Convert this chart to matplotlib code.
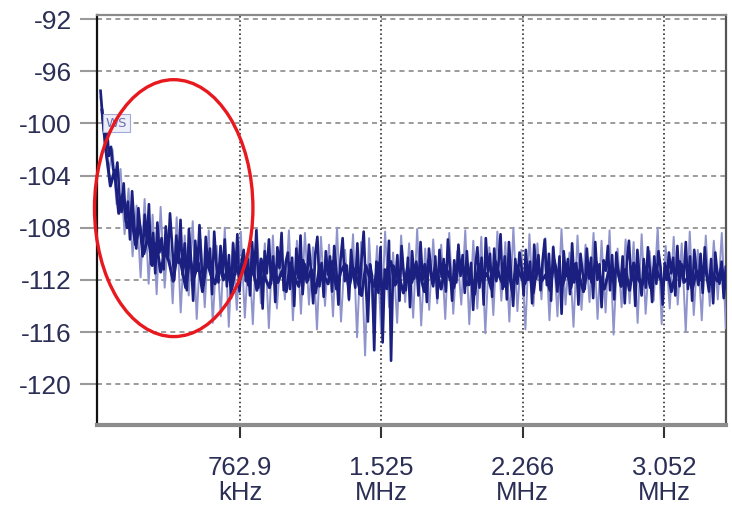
import numpy as np
import matplotlib
matplotlib.use("Agg")
import matplotlib.pyplot as plt
from matplotlib.patches import Ellipse

# ---- data ----
trace_dark_db = [
    -97.5, -99.5, -101.0, -100.2, -102.5, -101.8, -103.5, -104.2, -103.0, -105.5,
    -106.8, -104.6, -107.5, -106.0, -108.9, -105.2, -107.8, -109.6, -106.5, -108.3,
    -110.2, -107.0, -109.1, -106.2, -110.8, -108.4, -111.5, -107.6, -109.9, -108.8,
    -111.2, -107.9, -110.4, -106.9, -109.3, -112.0, -108.6, -110.7, -107.4, -111.6,
    -109.2, -112.8, -108.1, -110.5, -113.6, -109.0, -111.3, -107.8, -110.9, -112.4,
    -108.7, -111.0, -109.6, -113.1, -108.3, -110.8, -112.2, -109.4, -111.7, -108.9,
    -112.5, -110.1, -113.4, -109.2, -111.6, -108.5, -112.9, -110.6, -109.7, -112.1,
    -110.4, -113.2, -109.1, -111.8, -108.2, -112.6, -110.9, -114.2, -109.8, -111.5,
    -108.9, -112.3, -110.2, -113.7, -109.5, -111.1, -108.4, -112.8, -110.6, -109.9,
    -112.7, -110.3, -114.0, -109.6, -111.9, -108.6, -113.1, -110.8, -112.2, -109.3,
    -111.4, -113.8, -110.0, -108.7, -112.5, -110.7, -113.3, -109.8, -111.6, -110.2,
    -112.9, -109.4, -111.2, -113.9, -110.5, -108.8, -112.1, -110.9, -113.5, -109.7,
    -111.3, -112.6, -109.2, -113.1, -110.4, -108.3, -112.4, -115.2, -110.8, -111.7,
    -117.4, -110.6, -113.0, -109.5, -116.8, -111.2, -112.7, -109.0, -118.2, -110.9,
    -112.2, -110.1, -113.6, -109.4, -111.5, -112.8, -110.3, -114.1, -109.8, -111.9,
    -110.6, -113.2, -109.1, -112.0, -110.8, -113.7, -109.6, -111.3, -112.5, -110.2,
    -113.4, -109.7, -111.8, -110.4, -112.9, -108.9, -111.1, -113.6, -110.5, -112.2,
    -109.3, -111.7, -110.1, -113.0, -109.8, -112.4, -110.7, -114.3, -111.0, -109.5,
    -112.6, -110.3, -113.9, -108.8, -111.4, -110.0, -113.3, -109.6, -112.1, -110.8,
    -108.5, -112.7, -110.2, -113.5, -109.1, -111.6, -114.0, -110.4, -112.3, -109.9,
    -111.1, -113.2, -109.7, -112.0, -110.6, -113.8, -109.3, -111.9, -110.1, -112.8,
    -110.5, -108.9, -112.4, -110.0, -113.6, -109.5, -111.3, -112.9, -110.2, -114.6,
    -109.8, -111.7, -110.4, -113.1, -109.2, -112.2, -110.7, -113.9, -110.0, -111.5,
    -112.7, -109.6, -111.9, -110.3, -113.4, -109.1, -112.0, -110.8, -114.1, -110.5,
    -111.3, -109.4, -112.8, -110.1, -113.5, -109.9, -111.6, -112.4, -110.2, -113.8,
    -110.6, -109.0, -112.1, -110.9, -114.0, -109.7, -111.8, -113.2, -110.4, -112.6,
    -109.5, -111.4, -113.7, -110.2, -112.3, -109.8, -111.0, -113.9, -110.7, -112.0,
    -109.9, -111.5, -110.3, -113.2, -109.4, -112.5, -110.8, -111.9, -109.1, -112.7,
    -110.2, -113.6, -109.7, -111.3, -112.4, -110.0, -113.0, -109.5, -111.8, -112.9,
    -110.4, -113.8, -109.9, -111.6, -112.3, -110.6, -113.4, -111.0,
]

trace_core_db = [
    -99.0, -102.2, -104.8, -103.6, -106.9, -105.4, -108.0, -107.1, -109.3, -107.8,
    -110.0, -108.6, -110.9, -109.2, -111.4, -109.8, -110.6, -112.1, -109.9, -111.0,
    -112.6, -110.3, -111.8, -110.7, -112.9, -110.5, -111.6, -112.3, -110.8, -112.0,
    -111.2, -112.7, -110.9, -111.9,
    -110.6, -112.4, -111.0, -112.8, -110.4, -111.9, -112.6, -110.8, -112.2, -111.3,
    -112.9, -110.7, -111.8, -112.5, -110.5, -112.1, -111.2, -113.0, -110.9, -111.7,
    -112.3, -110.6, -112.7, -111.4, -110.8, -112.6, -111.1, -112.0, -113.2, -110.9,
    -111.9, -112.5, -110.7, -112.8, -111.3, -110.6, -112.4, -111.8, -113.0, -111.0,
    -112.2, -110.8, -111.6, -112.9, -110.5, -112.3, -111.4, -112.7, -110.9, -111.8,
    -112.6, -111.1, -110.7, -112.4, -111.9, -113.1, -110.8, -112.0, -111.5, -112.7,
    -110.6, -111.8, -112.5, -111.0, -112.9, -110.9, -111.7, -112.3, -111.2, -113.0,
    -110.7, -112.1, -111.6, -112.8, -110.5, -111.9, -112.4, -111.3, -112.6, -110.8,
    -111.7, -112.9, -111.0, -112.2, -110.6, -111.8, -112.7, -111.4, -112.1, -110.9,
    -112.5, -111.2, -112.8, -110.7, -111.9, -112.4, -111.1, -112.6, -110.8, -111.7,
    -112.3, -111.0, -112.9, -111.5, -110.6, -112.2, -111.8, -112.7, -111.3, -112.0,
    -110.9, -112.4, -111.6, -112.1, -111.0, -112.6,
]

trace_light_db = [
    -98.0, -101.5, -103.8, -102.0, -106.2, -103.5, -108.5, -105.0, -110.2, -106.3,
    -111.8, -105.8, -112.3, -107.0, -113.1, -106.4, -112.6, -108.1, -113.8, -107.2,
    -114.5, -108.6, -113.2, -107.5, -115.0, -108.9, -114.1, -108.2, -115.3, -109.4,
    -114.8, -108.0, -115.6, -109.1, -114.3,
    -108.3, -114.9, -109.6, -115.4, -108.1, -113.8, -109.2, -115.7, -108.6, -114.2,
    -109.8, -113.5, -108.2, -115.1, -109.0, -114.6, -108.4, -113.9, -109.5, -115.8,
    -108.7, -114.0, -109.3, -114.8, -108.0, -115.2, -109.7, -113.6, -108.5, -116.4,
    -109.1, -117.8, -108.8, -114.5, -109.4, -116.0, -108.3, -114.1, -109.9, -115.3,
    -108.6, -113.7, -109.2, -114.9, -108.1, -115.5, -109.6, -114.3, -108.9, -113.8,
    -109.3, -115.0, -108.4, -114.6, -109.8, -113.9, -108.2, -115.4, -109.0, -114.2,
    -108.7, -116.1, -109.5, -114.7, -108.3, -113.6, -109.1, -115.2, -108.0, -114.4,
    -109.7, -115.8, -108.5, -114.0, -109.2, -113.5, -108.8, -115.1, -109.4, -114.8,
    -108.1, -113.9, -109.9, -115.6, -108.6, -114.3, -109.3, -113.7, -108.4, -115.0,
    -109.0, -114.5, -108.2, -116.2, -109.6, -114.1, -108.9, -113.8, -109.1, -115.3,
    -108.5, -114.6, -109.8, -113.6, -108.0, -115.4, -109.4, -114.2, -108.7, -113.9,
    -109.2, -116.0, -108.3, -114.7, -109.7, -115.1, -108.6, -114.0, -109.0, -113.5,
    -108.4, -115.7,
]

f_start_khz = 10.0
f_stop_khz = 3385.0

xtick_khz = [762.9, 1525.8, 2288.7, 3051.6]
xtick_labels = ["762.9\nkHz", "1.525\nMHz", "2.266\nMHz", "3.052\nMHz"]
ytick_vals = [-92, -96, -100, -104, -108, -112, -116, -120]

marker_label = "WS"

# ---- drawing ----
W, H = 732, 505
fig = plt.figure(figsize=(W / 100, H / 100), dpi=100)
fig.patch.set_facecolor("white")
ax = fig.add_axes([97 / W, 1 - 425 / H, (726 - 97) / W, (425 - 15) / H])

f_dark = np.linspace(f_start_khz, f_stop_khz, len(trace_dark_db))
f_core = np.linspace(f_start_khz + 8, f_stop_khz, len(trace_core_db))
f_light = np.linspace(f_start_khz, f_stop_khz, len(trace_light_db))

ax.plot(f_light, trace_light_db, color="#9094cc", lw=1.4, zorder=3)
ax.plot(f_dark, trace_dark_db, color="#1b2080", lw=1.9, zorder=4)
ax.plot(f_core, trace_core_db, color="#1b2080", lw=2.2, zorder=4)

ax.set_xlim(-9, 3386)
ax.set_ylim(-123.13, -91.69)

ax.set_yticks(ytick_vals)
ax.set_yticklabels([str(v) for v in ytick_vals])
ax.set_xticks(xtick_khz)
ax.set_xticklabels(xtick_labels)

label_color = "#2b2e55"
for lab in ax.get_yticklabels():
    lab.set_fontfamily("Liberation Sans")
    lab.set_fontsize(19)
    lab.set_color(label_color)
for lab in ax.get_xticklabels():
    lab.set_fontfamily("Liberation Sans")
    lab.set_fontsize(18.5)
    lab.set_color(label_color)
    lab.set_linespacing(1.05)

ax.tick_params(axis="y", direction="out", length=12, width=1.5, color="#9a9a9a", pad=6)
ax.tick_params(axis="x", direction="out", length=9, width=1.5, color="#333333", pad=13)

# grid lines
for v in ytick_vals:
    ax.axhline(v, color="#8a8a8a", lw=1.2, ls=(0, (3, 2.5)), zorder=1)
for v in xtick_khz:
    ax.axvline(v, color="#333333", lw=1.2, ls=(0, (1, 1.6)), zorder=1)

# spines
ax.spines["left"].set_color("#111111")
ax.spines["left"].set_linewidth(1.6)
ax.spines["top"].set_color("#8a8a8a")
ax.spines["top"].set_linewidth(1.6)
ax.spines["right"].set_color("#555555")
ax.spines["right"].set_linewidth(1.6)
ax.spines["bottom"].set_color("#8c8c8c")
ax.spines["bottom"].set_linewidth(3.0)

# marker label
ax.text(38, -100.0, marker_label, fontsize=9.5, color="#6d71b4", family="DejaVu Sans",
        va="center", ha="left",
        bbox=dict(boxstyle="square,pad=0.18", fc="#eceef8", ec="#a6a9d6", lw=0.8),
        zorder=6)

# red ellipse annotation
ell = Ellipse((405, -106.5), width=855, height=19.7, fill=False, ec="#e8191e",
              lw=2.4, zorder=7, clip_on=False)
ax.add_patch(ell)

fig.savefig("out.png", dpi=100, facecolor="white")
